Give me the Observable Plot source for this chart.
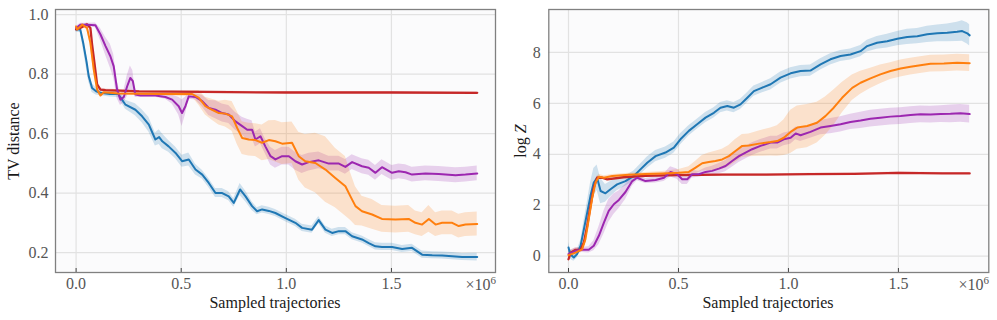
<!DOCTYPE html>
<html>
<head>
<meta charset="utf-8">
<script src="https://cdn.jsdelivr.net/npm/d3@7"></script>
<script src="https://cdn.jsdelivr.net/npm/@observablehq/plot@0.6"></script>
<style>
  html, body { margin: 0; padding: 0; background: #ffffff; }
  #wrap { position: relative; width: 997px; height: 320px; overflow: hidden; font-family: "Liberation Serif", "DejaVu Serif", serif; }
  #wrap svg { position: absolute; top: 0; }
  .lbl { position: absolute; font-size: 16px; line-height: 16px; color: #1a1a1a; white-space: nowrap; }
  .rot { transform: translate(-50%, -50%) rotate(-90deg); }
  .mult { position: absolute; font-size: 16px; line-height: 16px; color: #555; text-align: right; white-space: nowrap; }
  .mult sup { font-size: 11px; line-height: 0; vertical-align: 6px; }
</style>
</head>
<body>
<div id="wrap"></div>
<script>
// ---- tick values ----
const xTicks = [0, 0.5, 1.0, 1.5];
const tvTicks = [0.2, 0.4, 0.6, 0.8, 1.0];
const logZTicks = [0, 2, 4, 6, 8];

// ---- TV distance panel: [sampled trajectories (x1e6), mean, half band] ----
const tvBlue = [[0,0.95,0.01],[0.02,0.95,0.01],[0.035,0.9,0.02],[0.05,0.84,0.025],[0.06,0.793,0.02],[0.076,0.753,0.015],[0.095,0.742,0.012],[0.116,0.737,0.01],[0.16,0.733,0.01],[0.2,0.733,0.012],[0.235,0.697,0.015],[0.282,0.68,0.02],[0.314,0.658,0.022],[0.346,0.63,0.025],[0.377,0.58,0.022],[0.395,0.588,0.025],[0.41,0.574,0.025],[0.44,0.557,0.02],[0.473,0.535,0.02],[0.504,0.507,0.02],[0.536,0.513,0.022],[0.568,0.479,0.018],[0.6,0.462,0.015],[0.631,0.434,0.015],[0.663,0.40,0.015],[0.695,0.40,0.015],[0.726,0.389,0.015],[0.75,0.367,0.015],[0.78,0.412,0.02],[0.806,0.389,0.018],[0.837,0.356,0.015],[0.861,0.339,0.012],[0.885,0.345,0.012],[0.917,0.34,0.012],[0.948,0.333,0.012],[0.996,0.316,0.012],[1.043,0.3,0.012],[1.075,0.283,0.012],[1.122,0.277,0.012],[1.154,0.309,0.012],[1.186,0.277,0.012],[1.218,0.266,0.012],[1.25,0.272,0.012],[1.281,0.272,0.012],[1.313,0.255,0.012],[1.36,0.244,0.012],[1.392,0.232,0.012],[1.424,0.221,0.012],[1.455,0.219,0.012],[1.503,0.219,0.012],[1.551,0.212,0.012],[1.598,0.216,0.012],[1.646,0.193,0.012],[1.694,0.191,0.012],[1.741,0.19,0.012],[1.789,0.188,0.012],[1.836,0.185,0.012],[1.908,0.185,0.013]];
const tvOrange = [[0,0.96,0.005],[0.005,0.95,0.005],[0.029,0.966,0.005],[0.052,0.955,0.008],[0.068,0.905,0.01],[0.084,0.815,0.012],[0.1,0.748,0.01],[0.116,0.728,0.006],[0.132,0.739,0.005],[0.2,0.735,0.005],[0.3,0.734,0.005],[0.4,0.733,0.006],[0.5,0.733,0.008],[0.552,0.733,0.01],[0.584,0.72,0.025],[0.615,0.692,0.03],[0.647,0.68,0.035],[0.679,0.669,0.04],[0.71,0.667,0.045],[0.742,0.658,0.05],[0.766,0.619,0.055],[0.79,0.585,0.055],[0.821,0.58,0.055],[0.853,0.578,0.055],[0.885,0.569,0.06],[0.917,0.578,0.065],[0.948,0.574,0.07],[0.98,0.566,0.07],[1.027,0.569,0.07],[1.059,0.524,0.08],[1.09,0.507,0.09],[1.138,0.501,0.1],[1.186,0.479,0.11],[1.233,0.451,0.1],[1.281,0.423,0.1],[1.305,0.389,0.08],[1.329,0.356,0.065],[1.36,0.339,0.05],[1.408,0.328,0.05],[1.455,0.313,0.045],[1.519,0.311,0.045],[1.582,0.313,0.045],[1.614,0.3,0.04],[1.646,0.294,0.04],[1.678,0.313,0.045],[1.71,0.294,0.04],[1.741,0.3,0.04],[1.789,0.3,0.04],[1.82,0.289,0.04],[1.852,0.294,0.04],[1.908,0.296,0.04]];
const tvPurple = [[0,0.955,0.005],[0.02,0.966,0.005],[0.052,0.966,0.005],[0.092,0.964,0.008],[0.116,0.933,0.02],[0.14,0.894,0.03],[0.163,0.86,0.04],[0.179,0.826,0.04],[0.195,0.748,0.03],[0.211,0.714,0.02],[0.227,0.723,0.02],[0.243,0.759,0.035],[0.258,0.787,0.04],[0.27,0.776,0.035],[0.282,0.731,0.01],[0.306,0.728,0.006],[0.377,0.728,0.006],[0.425,0.723,0.008],[0.457,0.714,0.015],[0.488,0.692,0.03],[0.504,0.669,0.045],[0.52,0.692,0.03],[0.536,0.725,0.01],[0.568,0.723,0.01],[0.6,0.709,0.02],[0.631,0.686,0.025],[0.663,0.68,0.03],[0.695,0.669,0.03],[0.726,0.664,0.03],[0.758,0.641,0.03],[0.79,0.625,0.03],[0.814,0.613,0.035],[0.837,0.613,0.03],[0.853,0.58,0.025],[0.877,0.591,0.025],[0.9,0.557,0.025],[0.925,0.524,0.03],[0.948,0.513,0.03],[0.98,0.524,0.03],[1.012,0.524,0.03],[1.043,0.507,0.03],[1.075,0.496,0.03],[1.107,0.504,0.03],[1.154,0.51,0.028],[1.202,0.499,0.025],[1.25,0.499,0.025],[1.281,0.488,0.025],[1.313,0.504,0.025],[1.36,0.49,0.025],[1.392,0.485,0.025],[1.424,0.468,0.025],[1.455,0.487,0.025],[1.503,0.468,0.025],[1.535,0.473,0.025],[1.567,0.47,0.025],[1.598,0.462,0.025],[1.662,0.466,0.025],[1.725,0.464,0.025],[1.805,0.46,0.025],[1.852,0.462,0.025],[1.908,0.466,0.025]];
const tvRed = [[0,0.95,0.005],[0.02,0.955,0.005],[0.052,0.967,0.005],[0.068,0.955,0.005],[0.076,0.9,0.008],[0.085,0.85,0.01],[0.1,0.765,0.008],[0.116,0.748,0.005],[0.14,0.746,0.004],[0.3,0.742,0.003],[0.6,0.74,0.003],[1.0,0.738,0.003],[1.5,0.738,0.003],[1.908,0.737,0.003]];

// ---- log Z panel: [sampled trajectories (x1e6), mean, half band] ----
const lzBlue = [[0,0.34,0.2],[0.008,0.08,0.2],[0.024,-0.05,0.15],[0.039,0.08,0.15],[0.055,0.41,0.2],[0.07,1.06,0.3],[0.085,1.71,0.4],[0.1,2.37,0.5],[0.115,2.89,0.55],[0.13,3.08,0.5],[0.146,2.56,0.5],[0.168,2.47,0.35],[0.191,2.63,0.3],[0.221,2.82,0.25],[0.259,2.95,0.2],[0.297,3.15,0.2],[0.327,3.41,0.2],[0.358,3.67,0.22],[0.396,3.93,0.22],[0.441,4.07,0.22],[0.479,4.26,0.22],[0.509,4.59,0.22],[0.547,4.92,0.2],[0.585,5.18,0.2],[0.623,5.44,0.2],[0.661,5.63,0.2],[0.691,5.83,0.2],[0.722,5.9,0.2],[0.752,5.83,0.2],[0.782,5.96,0.2],[0.813,6.22,0.2],[0.843,6.48,0.2],[0.873,6.59,0.2],[0.919,6.75,0.22],[0.964,7.01,0.22],[1.01,7.18,0.22],[1.055,7.27,0.22],[1.1,7.29,0.22],[1.146,7.53,0.22],[1.191,7.73,0.22],[1.237,7.86,0.22],[1.282,7.92,0.22],[1.328,8.05,0.22],[1.358,8.25,0.23],[1.403,8.38,0.25],[1.449,8.44,0.27],[1.495,8.54,0.28],[1.54,8.61,0.3],[1.586,8.64,0.3],[1.631,8.71,0.32],[1.677,8.75,0.33],[1.722,8.77,0.35],[1.767,8.81,0.38],[1.79,8.84,0.4],[1.813,8.75,0.42],[1.824,8.67,0.42]];
const lzOrange = [[0,0.04,0.1],[0.032,0.14,0.1],[0.062,0.27,0.1],[0.077,0.67,0.15],[0.092,1.45,0.2],[0.108,2.3,0.2],[0.123,2.89,0.15],[0.138,3.12,0.1],[0.161,3.08,0.08],[0.199,3.15,0.06],[0.274,3.2,0.06],[0.35,3.23,0.06],[0.426,3.25,0.08],[0.502,3.28,0.12],[0.547,3.31,0.2],[0.578,3.48,0.25],[0.608,3.65,0.3],[0.638,3.7,0.35],[0.668,3.74,0.38],[0.699,3.8,0.4],[0.729,3.93,0.42],[0.759,4.13,0.45],[0.79,4.33,0.45],[0.82,4.35,0.45],[0.866,4.42,0.5],[0.919,4.48,0.55],[0.949,4.52,0.6],[0.979,4.65,0.7],[1.01,4.88,0.85],[1.04,5.05,0.85],[1.085,5.11,0.85],[1.13,5.24,0.8],[1.168,5.5,0.75],[1.206,5.83,0.7],[1.244,6.22,0.6],[1.29,6.61,0.5],[1.328,6.81,0.45],[1.373,6.98,0.4],[1.418,7.14,0.37],[1.464,7.27,0.33],[1.51,7.37,0.33],[1.555,7.44,0.33],[1.6,7.5,0.33],[1.646,7.56,0.33],[1.707,7.57,0.33],[1.767,7.6,0.33],[1.824,7.58,0.33]];
const lzPurple = [[0,0.08,0.1],[0.032,0.21,0.1],[0.062,0.25,0.1],[0.092,0.25,0.12],[0.115,0.41,0.2],[0.138,0.8,0.35],[0.161,1.32,0.45],[0.183,1.78,0.45],[0.206,2.04,0.4],[0.229,2.21,0.35],[0.259,2.52,0.3],[0.29,2.95,0.2],[0.312,3.08,0.12],[0.35,2.95,0.1],[0.396,2.99,0.12],[0.434,3.08,0.15],[0.464,3.31,0.2],[0.494,3.22,0.2],[0.517,3.02,0.2],[0.54,3.02,0.2],[0.562,3.22,0.15],[0.593,3.22,0.12],[0.623,3.31,0.15],[0.653,3.35,0.18],[0.684,3.44,0.2],[0.714,3.54,0.22],[0.744,3.74,0.25],[0.775,3.93,0.25],[0.805,4.07,0.25],[0.835,4.2,0.25],[0.873,4.33,0.25],[0.919,4.46,0.25],[0.949,4.46,0.25],[0.979,4.59,0.25],[1.01,4.65,0.25],[1.033,4.82,0.25],[1.055,4.75,0.25],[1.1,4.88,0.25],[1.146,5.05,0.28],[1.191,5.11,0.3],[1.237,5.18,0.3],[1.282,5.27,0.3],[1.328,5.33,0.32],[1.373,5.4,0.33],[1.418,5.44,0.33],[1.464,5.48,0.33],[1.51,5.5,0.33],[1.555,5.54,0.33],[1.6,5.57,0.33],[1.646,5.56,0.33],[1.692,5.58,0.33],[1.737,5.59,0.35],[1.782,5.61,0.35],[1.824,5.58,0.35]];
const lzRed = [[0,-0.12,0.1],[0.01,0.14,0.1],[0.032,0.25,0.08],[0.055,0.25,0.08],[0.07,0.54,0.1],[0.085,1.19,0.12],[0.1,1.97,0.12],[0.115,2.69,0.1],[0.13,3.08,0.06],[0.153,3.08,0.05],[0.176,3.02,0.05],[0.25,3.1,0.04],[0.35,3.15,0.04],[0.5,3.18,0.04],[0.7,3.2,0.04],[0.9,3.2,0.04],[1.1,3.22,0.04],[1.3,3.23,0.04],[1.5,3.27,0.04],[1.7,3.25,0.04],[1.824,3.25,0.04]];

const COLORS = { blue: "#1f77b4", orange: "#ff7f0e", purple: "#9c27b0", red: "#c62828" };

function panel({ series, xDomain, yDomain, yTicks, yFmt, width, marginLeft, marginRight, yPad }) {
  const tickLen = (yDomain[1] - yDomain[0]) * 4 / 263;
  const marks = [
    Plot.frame({ fill: "#fbfbfc", stroke: "none" }),
    Plot.gridX(xTicks, { stroke: "#e2e2e2", strokeOpacity: 1, strokeWidth: 1.2 }),
    Plot.gridY(yTicks, { stroke: "#e2e2e2", strokeOpacity: 1, strokeWidth: 1.2 })
  ];
  for (const s of series) {
    marks.push(Plot.areaY(s.data, {
      x: d => d[0], y1: d => d[1] - d[2], y2: d => d[1] + d[2],
      fill: s.color, fillOpacity: 0.2, curve: "linear"
    }));
  }
  for (const s of series) {
    marks.push(Plot.line(s.data, {
      x: d => d[0], y: d => d[1], stroke: s.color, strokeWidth: s.w || 2, curve: "linear"
    }));
  }
  marks.push(Plot.ruleX(xTicks, { x: d => d, y1: yDomain[0], y2: yDomain[0] + tickLen, stroke: "#444", strokeWidth: 1 }));
  marks.push(Plot.axisX(xTicks, { tickSize: 0, tickPadding: 5, tickFormat: d3.format(".1f"), label: null }));
  marks.push(Plot.axisY(yTicks, { tickSize: 0, tickPadding: yPad, tickFormat: yFmt, label: null }));
  marks.push(Plot.frame({ stroke: "#808080", strokeWidth: 1.3 }));
  return Plot.plot({
    width, height: 320,
    marginTop: 9, marginBottom: 48, marginLeft, marginRight,
    x: { domain: xDomain },
    y: { domain: yDomain },
    style: { fontFamily: "'Liberation Serif', 'DejaVu Serif', serif", fontSize: "16px", color: "#555", background: "transparent", overflow: "visible" },
    marks
  });
}

const wrap = document.getElementById("wrap");

const left = panel({
  series: [
    { data: tvBlue, color: COLORS.blue },
    { data: tvRed, color: COLORS.red, w: 2.3 },
    { data: tvPurple, color: COLORS.purple },
    { data: tvOrange, color: COLORS.orange }
  ],
  xDomain: [-0.098, 1.995], yDomain: [0.133, 1.017],
  yTicks: tvTicks, yFmt: d3.format(".1f"),
  width: 497, marginLeft: 55, marginRight: 2, yPad: 7
});
left.style.left = "0px";
wrap.appendChild(left);

const right = panel({
  series: [
    { data: lzBlue, color: COLORS.blue },
    { data: lzRed, color: COLORS.red, w: 2.3 },
    { data: lzPurple, color: COLORS.purple },
    { data: lzOrange, color: COLORS.orange }
  ],
  xDomain: [-0.0896, 1.911], yDomain: [-0.64, 9.686],
  yTicks: logZTicks, yFmt: d => String(d),
  width: 500, marginLeft: 51.3, marginRight: 8.7, yPad: 8
});
right.style.left = "497px";
wrap.appendChild(right);

// ---- text labels ----
function addLabel(html, css, cls) {
  const d = document.createElement("div");
  d.className = cls;
  d.innerHTML = html;
  Object.assign(d.style, css);
  wrap.appendChild(d);
}
addLabel("Sampled trajectories", { left: "55px", width: "440px", textAlign: "center", top: "294.5px" }, "lbl");
addLabel("Sampled trajectories", { left: "548px", width: "440px", textAlign: "center", top: "294.5px" }, "lbl");
addLabel("TV distance", { left: "14px", top: "140.5px" }, "lbl rot");
addLabel("log <i>Z</i>", { left: "520.5px", top: "140.5px" }, "lbl rot");
addLabel("×10<sup>6</sup>", { right: (997 - 496) + "px", top: "277px" }, "mult");
addLabel("×10<sup>6</sup>", { right: (997 - 989) + "px", top: "277px" }, "mult");
</script>
</body>
</html>
